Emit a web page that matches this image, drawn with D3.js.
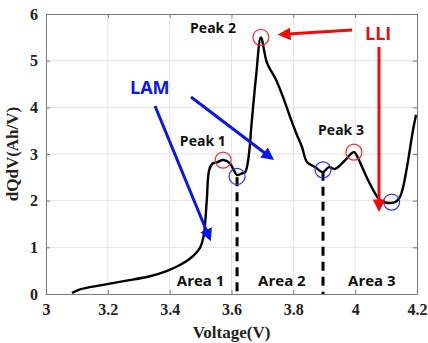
<!DOCTYPE html>
<html>
<head>
<meta charset="utf-8">
<script src="https://cdn.jsdelivr.net/npm/d3@7"></script>
<style>
  html, body { margin: 0; padding: 0; background: #fff; }
  svg { display: block; }
</style>
</head>
<body>
<svg id="chart" width="428" height="343"></svg>
<script>
// dQ/dV curve (voltage in V, dQdV in Ah/V)
const voltage = [3.084, 3.11, 3.18, 3.256, 3.336, 3.39, 3.433, 3.466, 3.498, 3.51, 3.52, 3.528,
  3.54, 3.553, 3.573, 3.595, 3.607, 3.618, 3.632, 3.644, 3.654, 3.666, 3.68, 3.695,
  3.715, 3.744, 3.77, 3.793, 3.809, 3.828, 3.844, 3.87, 3.896, 3.915, 3.935, 3.965, 3.996,
  4.012, 4.038, 4.064, 4.08, 4.097, 4.113, 4.13, 4.145, 4.155, 4.17, 4.187, 4.197];
const dqdv = [0.02, 0.1, 0.19, 0.28, 0.38, 0.49, 0.62, 0.76, 0.99, 1.25, 2.0, 2.66,
  2.8, 2.82, 2.87, 2.8, 2.66, 2.55, 2.58, 2.61, 2.87, 3.73, 4.7, 5.5,
  4.95, 4.59, 4.16, 3.73, 3.45, 3.15, 2.83, 2.72, 2.61, 2.72, 2.68, 2.85, 3.04,
  2.87, 2.49, 2.16, 2.01, 1.96, 1.95, 1.97, 2.08, 2.29, 2.81, 3.51, 3.84];

// Axis ticks
const xTicks = [3, 3.2, 3.4, 3.6, 3.8, 4, 4.2];
const yTicks = [0, 1, 2, 3, 4, 5, 6];

// Marked peaks (red) and valleys (blue)
const peakV = [3.573, 3.695, 3.996];
const peakQ = [2.87, 5.5, 3.04];
const peakNames = ["Peak 1", "Peak 2", "Peak 3"];
const valleyV = [3.618, 3.896, 4.118];
const valleyQ = [2.52, 2.66, 1.97];
// Area boundaries (dashed)
const boundaryV = [3.618, 3.896];
const boundaryTop = [2.5, 2.62];
const areaNames = ["Area 1", "Area 2", "Area 3"];
const areaCenters = [3.5, 3.763, 4.054];

const svg = d3.select("#chart");
const m = { left: 46, right: 11, top: 14, bottom: 49 };
const W = 428, H = 343;
const x = d3.scaleLinear().domain([3, 4.2]).range([m.left, W - m.right]);
const y = d3.scaleLinear().domain([0, 6]).range([H - m.bottom, m.top]);

const defs = svg.append("defs");
function marker(id, color) {
  defs.append("marker").attr("id", id)
    .attr("viewBox", "0 0 10 10").attr("refX", 2).attr("refY", 5)
    .attr("markerWidth", 4.2).attr("markerHeight", 4.2)
    .attr("markerUnits", "strokeWidth")
    .attr("orient", "auto")
    .append("path").attr("d", "M0,0 L10,5 L0,10 z").attr("fill", color);
}
marker("arrBlue", "#0a14f0");
marker("arrRed", "#f00a0a");

// grid
const g = svg.append("g");
g.selectAll(".gx").data(xTicks.slice(1, -1)).join("line")
  .attr("x1", d => x(d)).attr("x2", d => x(d))
  .attr("y1", y(0)).attr("y2", y(6))
  .attr("stroke", "#e4e4e4").attr("stroke-width", 1);
g.selectAll(".gy").data(yTicks.slice(1, -1)).join("line")
  .attr("y1", d => y(d)).attr("y2", d => y(d))
  .attr("x1", x(3)).attr("x2", x(4.2))
  .attr("stroke", "#e4e4e4").attr("stroke-width", 1);

// axes
const tickFont = "bold 16px 'Liberation Serif', 'Times New Roman', serif";
const xAxis = d3.axisBottom(x).tickValues(xTicks).tickSize(-4).tickPadding(10)
  .tickFormat(d3.format("~g"));
const yAxis = d3.axisLeft(y).tickValues(yTicks).tickSize(-4).tickPadding(8)
  .tickFormat(d3.format("d"));
const gx = svg.append("g").attr("transform", `translate(0,${y(0)})`).call(xAxis);
const gy = svg.append("g").attr("transform", `translate(${x(3)},0)`).call(yAxis);
[gx, gy].forEach(a => {
  a.select(".domain").attr("stroke", "#7a7a7a");
  a.selectAll(".tick line").attr("stroke", "#7a7a7a");
  a.selectAll("text").style("font", tickFont).attr("fill", "#222");
});
// top and right box ticks
const gxTop = svg.append("g").attr("transform", `translate(0,${y(6)})`)
  .call(d3.axisTop(x).tickValues(xTicks).tickSize(-4).tickFormat(""));
const gyRight = svg.append("g").attr("transform", `translate(${x(4.2)},0)`)
  .call(d3.axisRight(y).tickValues(yTicks).tickSize(-4).tickFormat(""));
[gxTop, gyRight].forEach(a => {
  a.select(".domain").attr("stroke", "#7a7a7a");
  a.selectAll(".tick line").attr("stroke", "#7a7a7a");
});

// axis titles
svg.append("text").attr("x", (x(3) + x(4.2)) / 2).attr("y", 338)
  .attr("text-anchor", "middle").style("font", "bold 17px 'Liberation Serif', serif")
  .attr("fill", "#222").text("Voltage(V)");
svg.append("text").attr("transform", `translate(18,${(y(0) + y(6)) / 2}) rotate(-90)`)
  .attr("text-anchor", "middle").style("font", "bold 17px 'Liberation Serif', serif")
  .attr("fill", "#222").text("dQdV(Ah/V)");

// dashed area boundaries
svg.selectAll(".bnd").data(boundaryV).join("line")
  .attr("x1", d => x(d)).attr("x2", d => x(d))
  .attr("y1", (d, i) => y(boundaryTop[i])).attr("y2", y(0))
  .attr("stroke", "#000").attr("stroke-width", 3).attr("stroke-dasharray", "9,6");

// curve
const line = d3.line().x((d, i) => x(voltage[i])).y((d, i) => y(dqdv[i]))
  .curve(d3.curveCatmullRom.alpha(0.5));
svg.append("path").datum(voltage).attr("d", line)
  .attr("fill", "none").attr("stroke", "#000").attr("stroke-width", 2.4)
  .attr("stroke-linejoin", "round");

// circles
svg.selectAll(".pk").data(peakV).join("circle")
  .attr("cx", d => x(d)).attr("cy", (d, i) => y(peakQ[i])).attr("r", 8)
  .attr("fill", "none").attr("stroke", "#f03030").attr("stroke-width", 1.2);
svg.selectAll(".vl").data(valleyV).join("circle")
  .attr("cx", d => x(d)).attr("cy", (d, i) => y(valleyQ[i])).attr("r", 8)
  .attr("fill", "none").attr("stroke", "#3030f0").attr("stroke-width", 1.2);

// labels
const labFont = "bold 14px 'Open Sans', 'Noto Sans', sans-serif";
const peakLabelPos = [[3.433, 3.17], [3.466, 5.59], [3.88, 3.41]];
svg.selectAll(".pl").data(peakNames).join("text")
  .attr("x", (d, i) => x(peakLabelPos[i][0])).attr("y", (d, i) => y(peakLabelPos[i][1]))
  .style("font", labFont).attr("fill", "#111").text(d => d);
svg.selectAll(".al").data(areaNames).join("text")
  .attr("x", (d, i) => x(areaCenters[i])).attr("y", y(0) - 8)
  .attr("text-anchor", "middle")
  .style("font", "bold 15px 'Open Sans', 'Noto Sans', sans-serif")
  .attr("fill", "#111").text(d => d);

svg.append("text").attr("x", 130).attr("y", 94)
  .style("font", "bold 18px 'Open Sans', 'Noto Sans', sans-serif")
  .attr("fill", "#0a14f0").text("LAM");
svg.append("text").attr("x", 365).attr("y", 40)
  .style("font", "bold 18px 'Open Sans', 'Noto Sans', sans-serif")
  .attr("fill", "#f00a0a").text("LLI");

// arrows
function arrow(x1, y1, x2, y2, color, mk) {
  svg.append("line").attr("x1", x1).attr("y1", y1).attr("x2", x2).attr("y2", y2)
    .attr("stroke", color).attr("stroke-width", 3).attr("marker-end", `url(#${mk})`);
}
arrow(155, 106, 207, 232, "#0a14f0", "arrBlue");
arrow(191, 97, 266, 154, "#0a14f0", "arrBlue");
arrow(352, 30, 288, 34, "#f00a0a", "arrRed");
arrow(379, 47, 379, 202, "#f00a0a", "arrRed");
</script>
</body>
</html>
